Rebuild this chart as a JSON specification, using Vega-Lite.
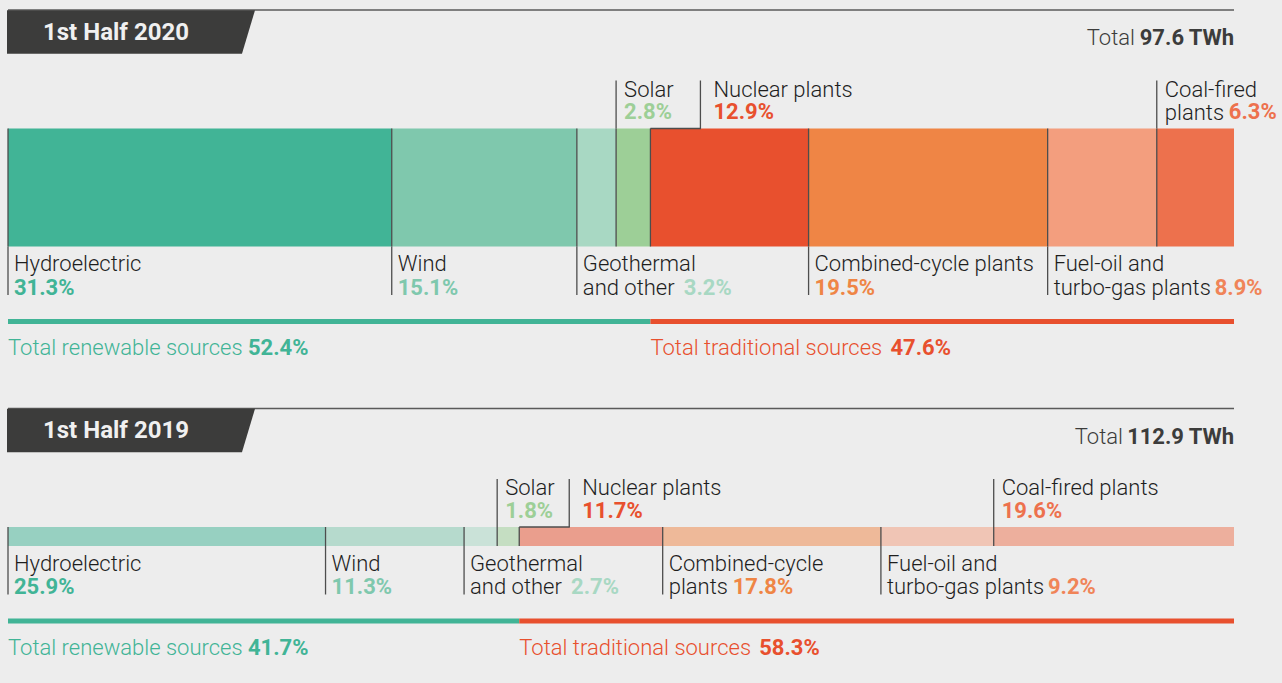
{
  "$schema": "https://vega.github.io/schema/vega-lite/v6.json",
  "width": 1282,
  "height": 683,
  "autosize": {"type": "fit", "contains": "padding"},
  "padding": 0,
  "background": "#ededed",
  "config": {"view": {"stroke": null}, "font": "Roboto", "text": {"font": "Roboto"}},
  "datasets": {
    "segments": [
      {"period": "1st Half 2020", "order": 1, "source": "Hydroelectric", "label": "Hydroelectric", "group": "Total renewable sources", "share": 0.313},
      {"period": "1st Half 2020", "order": 2, "source": "Wind", "label": "Wind", "group": "Total renewable sources", "share": 0.151},
      {"period": "1st Half 2020", "order": 3, "source": "Geothermal and other", "label": "Geothermal\nand other", "group": "Total renewable sources", "share": 0.032},
      {"period": "1st Half 2020", "order": 4, "source": "Solar", "label": "Solar", "group": "Total renewable sources", "share": 0.028},
      {"period": "1st Half 2020", "order": 5, "source": "Nuclear plants", "label": "Nuclear plants", "group": "Total traditional sources", "share": 0.129},
      {"period": "1st Half 2020", "order": 6, "source": "Combined-cycle plants", "label": "Combined-cycle plants", "group": "Total traditional sources", "share": 0.195},
      {"period": "1st Half 2020", "order": 7, "source": "Fuel-oil and turbo-gas plants", "label": "Fuel-oil and\nturbo-gas plants", "group": "Total traditional sources", "share": 0.089},
      {"period": "1st Half 2020", "order": 8, "source": "Coal-fired plants", "label": "Coal-fired\nplants", "group": "Total traditional sources", "share": 0.063},
      {"period": "1st Half 2019", "order": 1, "source": "Hydroelectric", "label": "Hydroelectric", "group": "Total renewable sources", "share": 0.259},
      {"period": "1st Half 2019", "order": 2, "source": "Wind", "label": "Wind", "group": "Total renewable sources", "share": 0.113},
      {"period": "1st Half 2019", "order": 3, "source": "Geothermal and other", "label": "Geothermal\nand other", "group": "Total renewable sources", "share": 0.027},
      {"period": "1st Half 2019", "order": 4, "source": "Solar", "label": "Solar", "group": "Total renewable sources", "share": 0.018},
      {"period": "1st Half 2019", "order": 5, "source": "Nuclear plants", "label": "Nuclear plants", "group": "Total traditional sources", "share": 0.117},
      {"period": "1st Half 2019", "order": 6, "source": "Combined-cycle plants", "label": "Combined-cycle\nplants", "group": "Total traditional sources", "share": 0.178},
      {"period": "1st Half 2019", "order": 7, "source": "Fuel-oil and turbo-gas plants", "label": "Fuel-oil and\nturbo-gas plants", "group": "Total traditional sources", "share": 0.092},
      {"period": "1st Half 2019", "order": 8, "source": "Coal-fired plants", "label": "Coal-fired plants", "group": "Total traditional sources", "share": 0.196}
    ],
    "periods": [
      {"period": "1st Half 2020", "total": 97.6},
      {"period": "1st Half 2019", "total": 112.9}
    ]
  },
  "resolve": {"scale": {"y": "independent"}},
  "layer": [
    {
      "data": {"name": "segments"},
      "transform": [
        {"stack": "share", "groupby": ["period"], "sort": [{"field": "order", "order": "ascending"}], "as": ["x0", "x1"]}
      ],
      "resolve": {"scale": {"y": "independent"}},
      "layer": [
        {
          "transform": [{"filter": "datum.period == '1st Half 2020'"}],
          "mark": {"type": "rect", "y2Offset": 118},
          "encoding": {
            "x": {"field": "x0", "type": "quantitative", "scale": {"domain": [-0.006525, 1.03915], "nice": false, "zero": false}, "axis": null},
            "x2": {"field": "x1"},
            "y": {"field": "period", "type": "nominal", "scale": {"type": "point", "padding": 0, "domain": ["1st Half 2020", "1st Half 2019"], "range": [128.5, 527]}, "axis": null},
            "y2": {"field": "period"},
            "color": {"field": "source", "type": "nominal", "legend": null, "scale": {"domain": ["Hydroelectric", "Wind", "Geothermal and other", "Solar", "Nuclear plants", "Combined-cycle plants", "Fuel-oil and turbo-gas plants", "Coal-fired plants", "Total renewable sources", "Total traditional sources"], "range": ["#41b496", "#7fc8ad", "#a8d8c3", "#9dcf97", "#e8502e", "#ef8545", "#f39e7e", "#ed714d", "#41b496", "#e8502e"]}}
          }
        },
        {
          "transform": [{"filter": "datum.period == '1st Half 2019'"}],
          "mark": {"type": "rect", "y2Offset": 19, "opacity": 0.5},
          "encoding": {
            "x": {"field": "x0", "type": "quantitative", "scale": {"domain": [-0.006525, 1.03915], "nice": false, "zero": false}, "axis": null},
            "x2": {"field": "x1"},
            "y": {"field": "period", "type": "nominal", "scale": {"type": "point", "padding": 0, "domain": ["1st Half 2020", "1st Half 2019"], "range": [128.5, 527]}, "axis": null},
            "y2": {"field": "period"},
            "color": {"field": "source", "type": "nominal", "legend": null, "scale": {"domain": ["Hydroelectric", "Wind", "Geothermal and other", "Solar", "Nuclear plants", "Combined-cycle plants", "Fuel-oil and turbo-gas plants", "Coal-fired plants", "Total renewable sources", "Total traditional sources"], "range": ["#41b496", "#7fc8ad", "#a8d8c3", "#9dcf97", "#e8502e", "#ef8545", "#f39e7e", "#ed714d", "#41b496", "#e8502e"]}}
          }
        },
        {
          "transform": [{"filter": "datum.period == '1st Half 2020'"}],
          "mark": {"type": "rule", "y2Offset": 118, "color": "#4d4d4d", "strokeWidth": 1.3},
          "encoding": {
            "x": {"field": "x0", "type": "quantitative", "scale": {"domain": [-0.006525, 1.03915], "nice": false, "zero": false}, "axis": null},
            "y": {"field": "period", "type": "nominal", "scale": {"type": "point", "padding": 0, "domain": ["1st Half 2020", "1st Half 2019"], "range": [128.5, 527]}, "axis": null},
            "y2": {"field": "period"}
          }
        },
        {
          "transform": [{"filter": "datum.period == '1st Half 2019'"}],
          "mark": {"type": "rule", "y2Offset": 19, "color": "#4d4d4d", "strokeWidth": 1.3},
          "encoding": {
            "x": {"field": "x0", "type": "quantitative", "scale": {"domain": [-0.006525, 1.03915], "nice": false, "zero": false}, "axis": null},
            "y": {"field": "period", "type": "nominal", "scale": {"type": "point", "padding": 0, "domain": ["1st Half 2020", "1st Half 2019"], "range": [128.5, 527]}, "axis": null},
            "y2": {"field": "period"}
          }
        },
        {
          "transform": [{"filter": {"not": {"field": "source", "oneOf": ["Solar", "Nuclear plants", "Coal-fired plants"]}}}],
          "mark": {"type": "rule", "y2Offset": 48.5, "color": "#4d4d4d", "strokeWidth": 1.3},
          "encoding": {
            "x": {"field": "x0", "type": "quantitative", "scale": {"domain": [-0.006525, 1.03915], "nice": false, "zero": false}, "axis": null},
            "y": {"field": "period", "type": "nominal", "scale": {"type": "point", "padding": 0, "domain": ["1st Half 2020", "1st Half 2019"], "range": [246.5, 546]}, "axis": null},
            "y2": {"field": "period"}
          }
        },
        {
          "transform": [{"filter": {"field": "source", "oneOf": ["Solar", "Coal-fired plants"]}}],
          "mark": {"type": "rule", "yOffset": -48, "color": "#4d4d4d", "strokeWidth": 1.3},
          "encoding": {
            "x": {"field": "x0", "type": "quantitative", "scale": {"domain": [-0.006525, 1.03915], "nice": false, "zero": false}, "axis": null},
            "y": {"field": "period", "type": "nominal", "scale": {"type": "point", "padding": 0, "domain": ["1st Half 2020", "1st Half 2019"], "range": [128.5, 527]}, "axis": null},
            "y2": {"field": "period"}
          }
        },
        {
          "transform": [{"filter": {"field": "source", "equal": "Nuclear plants"}}],
          "mark": {"type": "rule", "yOffset": -48, "xOffset": 50, "color": "#4d4d4d", "strokeWidth": 1.3},
          "encoding": {
            "x": {"field": "x0", "type": "quantitative", "scale": {"domain": [-0.006525, 1.03915], "nice": false, "zero": false}, "axis": null},
            "y": {"field": "period", "type": "nominal", "scale": {"type": "point", "padding": 0, "domain": ["1st Half 2020", "1st Half 2019"], "range": [128.5, 527]}, "axis": null},
            "y2": {"field": "period"}
          }
        },
        {
          "transform": [{"filter": {"field": "source", "equal": "Nuclear plants"}}],
          "mark": {"type": "rule", "x2Offset": 50.6, "color": "#4d4d4d", "strokeWidth": 1.3},
          "encoding": {
            "x": {"field": "x0", "type": "quantitative", "scale": {"domain": [-0.006525, 1.03915], "nice": false, "zero": false}, "axis": null},
            "x2": {"field": "x0"},
            "y": {"field": "period", "type": "nominal", "scale": {"type": "point", "padding": 0, "domain": ["1st Half 2020", "1st Half 2019"], "range": [128.5, 527]}, "axis": null}
          }
        },
        {
          "transform": [{"filter": {"field": "source", "oneOf": ["Solar", "Coal-fired plants"]}}],
          "mark": {"type": "text", "align": "left", "baseline": "alphabetic", "dx": 8, "dy": -32, "fontSize": 22, "fontWeight": 300, "lineHeight": 23, "lineBreak": "\n", "color": "#1e1e1e"},
          "encoding": {
            "x": {"field": "x0", "type": "quantitative", "scale": {"domain": [-0.006525, 1.03915], "nice": false, "zero": false}, "axis": null},
            "y": {"field": "period", "type": "nominal", "scale": {"type": "point", "padding": 0, "domain": ["1st Half 2020", "1st Half 2019"], "range": [128.5, 527]}, "axis": null},
            "text": {"field": "label"}
          }
        },
        {
          "transform": [{"filter": {"field": "source", "equal": "Nuclear plants"}}],
          "mark": {"type": "text", "align": "left", "baseline": "alphabetic", "dx": 63, "dy": -32, "fontSize": 22, "fontWeight": 300, "lineHeight": 23, "lineBreak": "\n", "color": "#1e1e1e"},
          "encoding": {
            "x": {"field": "x0", "type": "quantitative", "scale": {"domain": [-0.006525, 1.03915], "nice": false, "zero": false}, "axis": null},
            "y": {"field": "period", "type": "nominal", "scale": {"type": "point", "padding": 0, "domain": ["1st Half 2020", "1st Half 2019"], "range": [128.5, 527]}, "axis": null},
            "text": {"field": "label"}
          }
        },
        {
          "transform": [{"filter": {"not": {"field": "source", "oneOf": ["Solar", "Nuclear plants", "Coal-fired plants"]}}}],
          "mark": {"type": "text", "align": "left", "baseline": "alphabetic", "dx": 6, "dy": 24.5, "fontSize": 22, "fontWeight": 300, "lineHeight": 23.5, "lineBreak": "\n", "color": "#1e1e1e"},
          "encoding": {
            "x": {"field": "x0", "type": "quantitative", "scale": {"domain": [-0.006525, 1.03915], "nice": false, "zero": false}, "axis": null},
            "y": {"field": "period", "type": "nominal", "scale": {"type": "point", "padding": 0, "domain": ["1st Half 2020", "1st Half 2019"], "range": [246.5, 546]}, "axis": null},
            "text": {"field": "label"}
          }
        },
        {
          "transform": [{"filter": "datum.source == 'Solar' || (datum.source == 'Coal-fired plants' && datum.period == '1st Half 2019')"}],
          "mark": {"type": "text", "align": "left", "baseline": "alphabetic", "dx": 8, "dy": -9.5, "fontSize": 22, "fontWeight": "bold"},
          "encoding": {
            "x": {"field": "x0", "type": "quantitative", "scale": {"domain": [-0.006525, 1.03915], "nice": false, "zero": false}, "axis": null},
            "y": {"field": "period", "type": "nominal", "scale": {"type": "point", "padding": 0, "domain": ["1st Half 2020", "1st Half 2019"], "range": [128.5, 527]}, "axis": null},
            "text": {"field": "share", "type": "quantitative", "format": ".1%"},
            "fill": {"field": "source", "type": "nominal", "legend": null, "scale": {"domain": ["Hydroelectric", "Wind", "Geothermal and other", "Solar", "Nuclear plants", "Combined-cycle plants", "Fuel-oil and turbo-gas plants", "Coal-fired plants"], "range": ["#41b496", "#7fc8ad", "#a8d8c3", "#9dcf97", "#e8502e", "#ef8545", "#f08458", "#ed714d"]}}
          }
        },
        {
          "transform": [{"filter": "datum.source == 'Coal-fired plants' && datum.period == '1st Half 2020'"}],
          "mark": {"type": "text", "align": "left", "baseline": "alphabetic", "dx": 72, "dy": -9.5, "fontSize": 22, "fontWeight": "bold"},
          "encoding": {
            "x": {"field": "x0", "type": "quantitative", "scale": {"domain": [-0.006525, 1.03915], "nice": false, "zero": false}, "axis": null},
            "y": {"field": "period", "type": "nominal", "scale": {"type": "point", "padding": 0, "domain": ["1st Half 2020", "1st Half 2019"], "range": [128.5, 527]}, "axis": null},
            "text": {"field": "share", "type": "quantitative", "format": ".1%"},
            "fill": {"field": "source", "type": "nominal", "legend": null, "scale": {"domain": ["Hydroelectric", "Wind", "Geothermal and other", "Solar", "Nuclear plants", "Combined-cycle plants", "Fuel-oil and turbo-gas plants", "Coal-fired plants"], "range": ["#41b496", "#7fc8ad", "#a8d8c3", "#9dcf97", "#e8502e", "#ef8545", "#f08458", "#ed714d"]}}
          }
        },
        {
          "transform": [{"filter": {"field": "source", "equal": "Nuclear plants"}}],
          "mark": {"type": "text", "align": "left", "baseline": "alphabetic", "dx": 63, "dy": -9.5, "fontSize": 22, "fontWeight": "bold"},
          "encoding": {
            "x": {"field": "x0", "type": "quantitative", "scale": {"domain": [-0.006525, 1.03915], "nice": false, "zero": false}, "axis": null},
            "y": {"field": "period", "type": "nominal", "scale": {"type": "point", "padding": 0, "domain": ["1st Half 2020", "1st Half 2019"], "range": [128.5, 527]}, "axis": null},
            "text": {"field": "share", "type": "quantitative", "format": ".1%"},
            "fill": {"field": "source", "type": "nominal", "legend": null, "scale": {"domain": ["Hydroelectric", "Wind", "Geothermal and other", "Solar", "Nuclear plants", "Combined-cycle plants", "Fuel-oil and turbo-gas plants", "Coal-fired plants"], "range": ["#41b496", "#7fc8ad", "#a8d8c3", "#9dcf97", "#e8502e", "#ef8545", "#f08458", "#ed714d"]}}
          }
        },
        {
          "transform": [{"filter": "datum.source == 'Hydroelectric' || datum.source == 'Wind' || (datum.source == 'Combined-cycle plants' && datum.period == '1st Half 2020')"}],
          "mark": {"type": "text", "align": "left", "baseline": "alphabetic", "dx": 6, "dy": 48, "fontSize": 22, "fontWeight": "bold"},
          "encoding": {
            "x": {"field": "x0", "type": "quantitative", "scale": {"domain": [-0.006525, 1.03915], "nice": false, "zero": false}, "axis": null},
            "y": {"field": "period", "type": "nominal", "scale": {"type": "point", "padding": 0, "domain": ["1st Half 2020", "1st Half 2019"], "range": [246.5, 546]}, "axis": null},
            "text": {"field": "share", "type": "quantitative", "format": ".1%"},
            "fill": {"field": "source", "type": "nominal", "legend": null, "scale": {"domain": ["Hydroelectric", "Wind", "Geothermal and other", "Solar", "Nuclear plants", "Combined-cycle plants", "Fuel-oil and turbo-gas plants", "Coal-fired plants"], "range": ["#41b496", "#7fc8ad", "#a8d8c3", "#9dcf97", "#e8502e", "#ef8545", "#f08458", "#ed714d"]}}
          }
        },
        {
          "transform": [{"filter": {"field": "source", "equal": "Geothermal and other"}}],
          "mark": {"type": "text", "align": "left", "baseline": "alphabetic", "dx": 107, "dy": 48, "fontSize": 22, "fontWeight": "bold"},
          "encoding": {
            "x": {"field": "x0", "type": "quantitative", "scale": {"domain": [-0.006525, 1.03915], "nice": false, "zero": false}, "axis": null},
            "y": {"field": "period", "type": "nominal", "scale": {"type": "point", "padding": 0, "domain": ["1st Half 2020", "1st Half 2019"], "range": [246.5, 546]}, "axis": null},
            "text": {"field": "share", "type": "quantitative", "format": ".1%"},
            "fill": {"field": "source", "type": "nominal", "legend": null, "scale": {"domain": ["Hydroelectric", "Wind", "Geothermal and other", "Solar", "Nuclear plants", "Combined-cycle plants", "Fuel-oil and turbo-gas plants", "Coal-fired plants"], "range": ["#41b496", "#7fc8ad", "#a8d8c3", "#9dcf97", "#e8502e", "#ef8545", "#f08458", "#ed714d"]}}
          }
        },
        {
          "transform": [{"filter": {"field": "source", "equal": "Fuel-oil and turbo-gas plants"}}],
          "mark": {"type": "text", "align": "left", "baseline": "alphabetic", "dx": 167, "dy": 48, "fontSize": 22, "fontWeight": "bold"},
          "encoding": {
            "x": {"field": "x0", "type": "quantitative", "scale": {"domain": [-0.006525, 1.03915], "nice": false, "zero": false}, "axis": null},
            "y": {"field": "period", "type": "nominal", "scale": {"type": "point", "padding": 0, "domain": ["1st Half 2020", "1st Half 2019"], "range": [246.5, 546]}, "axis": null},
            "text": {"field": "share", "type": "quantitative", "format": ".1%"},
            "fill": {"field": "source", "type": "nominal", "legend": null, "scale": {"domain": ["Hydroelectric", "Wind", "Geothermal and other", "Solar", "Nuclear plants", "Combined-cycle plants", "Fuel-oil and turbo-gas plants", "Coal-fired plants"], "range": ["#41b496", "#7fc8ad", "#a8d8c3", "#9dcf97", "#e8502e", "#ef8545", "#f08458", "#ed714d"]}}
          }
        },
        {
          "transform": [{"filter": "datum.source == 'Combined-cycle plants' && datum.period == '1st Half 2019'"}],
          "mark": {"type": "text", "align": "left", "baseline": "alphabetic", "dx": 70, "dy": 48, "fontSize": 22, "fontWeight": "bold"},
          "encoding": {
            "x": {"field": "x0", "type": "quantitative", "scale": {"domain": [-0.006525, 1.03915], "nice": false, "zero": false}, "axis": null},
            "y": {"field": "period", "type": "nominal", "scale": {"type": "point", "padding": 0, "domain": ["1st Half 2020", "1st Half 2019"], "range": [246.5, 546]}, "axis": null},
            "text": {"field": "share", "type": "quantitative", "format": ".1%"},
            "fill": {"field": "source", "type": "nominal", "legend": null, "scale": {"domain": ["Hydroelectric", "Wind", "Geothermal and other", "Solar", "Nuclear plants", "Combined-cycle plants", "Fuel-oil and turbo-gas plants", "Coal-fired plants"], "range": ["#41b496", "#7fc8ad", "#a8d8c3", "#9dcf97", "#e8502e", "#ef8545", "#f08458", "#ed714d"]}}
          }
        },
        {
          "transform": [
            {"aggregate": [{"op": "sum", "field": "share", "as": "total"}, {"op": "min", "field": "x0", "as": "g0"}, {"op": "max", "field": "x1", "as": "g1"}], "groupby": ["period", "group"]}
          ],
          "layer": [
            {
              "mark": {"type": "rule", "strokeWidth": 5, "yOffset": 75, "strokeCap": "butt"},
              "encoding": {
                "x": {"field": "g0", "type": "quantitative", "scale": {"domain": [-0.006525, 1.03915], "nice": false, "zero": false}, "axis": null},
                "x2": {"field": "g1"},
                "y": {"field": "period", "type": "nominal", "scale": {"type": "point", "padding": 0, "domain": ["1st Half 2020", "1st Half 2019"], "range": [246.5, 546]}, "axis": null},
                "color": {"field": "group", "type": "nominal", "legend": null, "scale": {"domain": ["Hydroelectric", "Wind", "Geothermal and other", "Solar", "Nuclear plants", "Combined-cycle plants", "Fuel-oil and turbo-gas plants", "Coal-fired plants", "Total renewable sources", "Total traditional sources"], "range": ["#41b496", "#7fc8ad", "#a8d8c3", "#9dcf97", "#e8502e", "#ef8545", "#f39e7e", "#ed714d", "#41b496", "#e8502e"]}}
              }
            },
            {
              "mark": {"type": "text", "align": "left", "baseline": "alphabetic", "dy": 108.5, "fontSize": 22, "fontWeight": 300},
              "encoding": {
                "x": {"field": "g0", "type": "quantitative", "scale": {"domain": [-0.006525, 1.03915], "nice": false, "zero": false}, "axis": null},
                "y": {"field": "period", "type": "nominal", "scale": {"type": "point", "padding": 0, "domain": ["1st Half 2020", "1st Half 2019"], "range": [246.5, 546]}, "axis": null},
                "text": {"field": "group"},
                "color": {"field": "group", "type": "nominal", "legend": null, "scale": {"domain": ["Hydroelectric", "Wind", "Geothermal and other", "Solar", "Nuclear plants", "Combined-cycle plants", "Fuel-oil and turbo-gas plants", "Coal-fired plants", "Total renewable sources", "Total traditional sources"], "range": ["#41b496", "#7fc8ad", "#a8d8c3", "#9dcf97", "#e8502e", "#ef8545", "#f39e7e", "#ed714d", "#41b496", "#e8502e"]}}
              }
            },
            {
              "mark": {"type": "text", "align": "left", "baseline": "alphabetic", "dx": 240, "dy": 108.5, "fontSize": 22, "fontWeight": "bold"},
              "encoding": {
                "x": {"field": "g0", "type": "quantitative", "scale": {"domain": [-0.006525, 1.03915], "nice": false, "zero": false}, "axis": null},
                "y": {"field": "period", "type": "nominal", "scale": {"type": "point", "padding": 0, "domain": ["1st Half 2020", "1st Half 2019"], "range": [246.5, 546]}, "axis": null},
                "text": {"field": "total", "type": "quantitative", "format": ".1%"},
                "color": {"field": "group", "type": "nominal", "legend": null, "scale": {"domain": ["Hydroelectric", "Wind", "Geothermal and other", "Solar", "Nuclear plants", "Combined-cycle plants", "Fuel-oil and turbo-gas plants", "Coal-fired plants", "Total renewable sources", "Total traditional sources"], "range": ["#41b496", "#7fc8ad", "#a8d8c3", "#9dcf97", "#e8502e", "#ef8545", "#f39e7e", "#ed714d", "#41b496", "#e8502e"]}}
              }
            }
          ]
        }
      ]
    },
    {
      "data": {"name": "periods"},
      "layer": [
        {
          "mark": {"type": "rule", "yOffset": -118.5, "color": "#5a5a5a", "strokeWidth": 1.5},
          "encoding": {
            "x": {"datum": 0, "type": "quantitative", "scale": {"domain": [-0.006525, 1.03915], "nice": false, "zero": false}, "axis": null},
            "x2": {"datum": 1},
            "y": {"field": "period", "type": "nominal", "scale": {"type": "point", "padding": 0, "domain": ["1st Half 2020", "1st Half 2019"], "range": [128.5, 527]}, "axis": null}
          }
        },
        {
          "mark": {"type": "point", "shape": "M -1,-0.1754 L 1,-0.1754 L 0.895,0.1754 L -1,0.1754 Z", "size": 61504, "filled": true, "opacity": 1, "color": "#3c3c3b", "strokeWidth": 0, "xOffset": 123, "yOffset": -96.5},
          "encoding": {
            "x": {"datum": 0, "type": "quantitative", "scale": {"domain": [-0.006525, 1.03915], "nice": false, "zero": false}, "axis": null},
            "y": {"field": "period", "type": "nominal", "scale": {"type": "point", "padding": 0, "domain": ["1st Half 2020", "1st Half 2019"], "range": [128.5, 527]}, "axis": null}
          }
        },
        {
          "mark": {"type": "text", "align": "left", "baseline": "alphabetic", "dx": 35, "dy": -89, "fontSize": 24, "fontWeight": "bold", "color": "#f0f0f0"},
          "encoding": {
            "x": {"datum": 0, "type": "quantitative", "scale": {"domain": [-0.006525, 1.03915], "nice": false, "zero": false}, "axis": null},
            "y": {"field": "period", "type": "nominal", "scale": {"type": "point", "padding": 0, "domain": ["1st Half 2020", "1st Half 2019"], "range": [128.5, 527]}, "axis": null},
            "text": {"field": "period"}
          }
        },
        {
          "mark": {"type": "text", "align": "right", "baseline": "alphabetic", "dy": -83.5, "fontSize": 22, "fontWeight": "bold", "color": "#3c3c3b", "text": "TWh"},
          "encoding": {
            "x": {"datum": 1, "type": "quantitative", "scale": {"domain": [-0.006525, 1.03915], "nice": false, "zero": false}, "axis": null},
            "y": {"field": "period", "type": "nominal", "scale": {"type": "point", "padding": 0, "domain": ["1st Half 2020", "1st Half 2019"], "range": [128.5, 527]}, "axis": null}
          }
        },
        {
          "mark": {"type": "text", "align": "right", "baseline": "alphabetic", "dx": -50, "dy": -83.5, "fontSize": 22, "fontWeight": "bold", "color": "#3c3c3b"},
          "encoding": {
            "x": {"datum": 1, "type": "quantitative", "scale": {"domain": [-0.006525, 1.03915], "nice": false, "zero": false}, "axis": null},
            "y": {"field": "period", "type": "nominal", "scale": {"type": "point", "padding": 0, "domain": ["1st Half 2020", "1st Half 2019"], "range": [128.5, 527]}, "axis": null},
            "text": {"field": "total", "type": "quantitative", "format": ".1f"}
          }
        },
        {
          "transform": [{"filter": "datum.period == '1st Half 2020'"}],
          "mark": {"type": "text", "align": "right", "baseline": "alphabetic", "dx": -99, "dy": -83.5, "fontSize": 22, "fontWeight": 300, "color": "#3c3c3b", "text": "Total"},
          "encoding": {
            "x": {"datum": 1, "type": "quantitative", "scale": {"domain": [-0.006525, 1.03915], "nice": false, "zero": false}, "axis": null},
            "y": {"field": "period", "type": "nominal", "scale": {"type": "point", "padding": 0, "domain": ["1st Half 2020", "1st Half 2019"], "range": [128.5, 527]}, "axis": null}
          }
        },
        {
          "transform": [{"filter": "datum.period == '1st Half 2019'"}],
          "mark": {"type": "text", "align": "right", "baseline": "alphabetic", "dx": -111, "dy": -83.5, "fontSize": 22, "fontWeight": 300, "color": "#3c3c3b", "text": "Total"},
          "encoding": {
            "x": {"datum": 1, "type": "quantitative", "scale": {"domain": [-0.006525, 1.03915], "nice": false, "zero": false}, "axis": null},
            "y": {"field": "period", "type": "nominal", "scale": {"type": "point", "padding": 0, "domain": ["1st Half 2020", "1st Half 2019"], "range": [128.5, 527]}, "axis": null}
          }
        }
      ]
    }
  ]
}
